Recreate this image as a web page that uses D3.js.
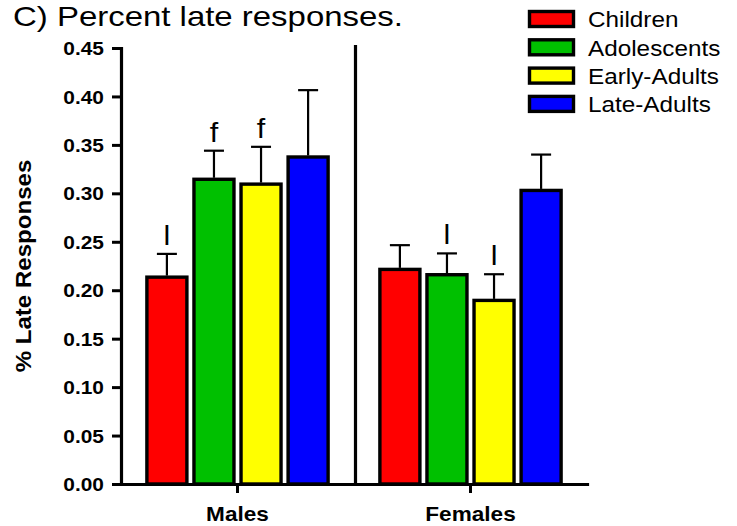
<!DOCTYPE html>
<html><head><meta charset="utf-8">
<script src="https://cdn.jsdelivr.net/npm/d3@7"></script>
<style>body{margin:0;background:#fff} svg{display:block}</style>
</head><body><svg id="c" width="737" height="526"></svg>
<script>
// ---- data ----
const groups = ["Males", "Females"];
const series = ["Children", "Adolescents", "Early-Adults", "Late-Adults"];
const colors = ["#ff0000", "#00c000", "#ffff00", "#0000ff"];
const malesMean = [0.2135, 0.3145, 0.3095, 0.3375];
const malesErr = [0.024, 0.0295, 0.0385, 0.069];
const femalesMean = [0.2215, 0.216, 0.1895, 0.303];
const femalesErr = [0.025, 0.022, 0.027, 0.037];
const malesMarks = ["l", "f", "f", ""];
const femalesMarks = ["", "l", "l", ""];
const yTicks = [0.00, 0.05, 0.10, 0.15, 0.20, 0.25, 0.30, 0.35, 0.40, 0.45];
const yTickLabels = ["0.00", "0.05", "0.10", "0.15", "0.20", "0.25", "0.30", "0.35", "0.40", "0.45"];
const titleText = "C) Percent late responses.";
const yTitleText = "% Late Responses";

const means = [malesMean, femalesMean];
const errs = [malesErr, femalesErr];
const marks = [malesMarks, femalesMarks];

// ---- layout ----
const SX = 1.13; // horizontal glyph stretch seen in the reference
const svg = d3.select("#c");
const mLeft = 121, mRight = 587, mTop = 48, mBottom = 484;

const y = d3.scaleLinear().domain([0, 0.45]).range([mBottom, mTop]);
const x0 = d3.scaleBand().domain(groups).range([mLeft, mRight]).padding(0);
const x1 = d3.scaleBand().domain(series).range([0, x0.bandwidth()])
  .paddingInner(0.15).paddingOuter(0.55);

const data = [];
groups.forEach((g, gi) => series.forEach((s, si) => data.push({
  g, s, si, v: means[gi][si], e: errs[gi][si], m: marks[gi][si]
})));

// bars
const bars = svg.append("g");
bars.selectAll("rect").data(data).join("rect")
  .attr("x", d => x0(d.g) + x1(d.s))
  .attr("width", x1.bandwidth())
  .attr("y", d => y(d.v))
  .attr("height", d => y(0) - y(d.v))
  .attr("fill", d => colors[d.si])
  .attr("stroke", "#000").attr("stroke-width", 3.4);

// error bars
const eb = svg.append("g").attr("stroke", "#000").attr("stroke-width", 2.2);
eb.selectAll("line.v").data(data).join("line").attr("class", "v")
  .attr("x1", d => x0(d.g) + x1(d.s) + x1.bandwidth() / 2)
  .attr("x2", d => x0(d.g) + x1(d.s) + x1.bandwidth() / 2)
  .attr("y1", d => y(d.v) - 1.5)
  .attr("y2", d => y(d.v + d.e));
eb.selectAll("line.h").data(data).join("line").attr("class", "h")
  .attr("x1", d => x0(d.g) + x1(d.s) + x1.bandwidth() / 4)
  .attr("x2", d => x0(d.g) + x1(d.s) + x1.bandwidth() * 3 / 4)
  .attr("y1", d => y(d.v + d.e))
  .attr("y2", d => y(d.v + d.e));

// significance letters
svg.append("g").selectAll("text").data(data.filter(d => d.m)).join("text")
  .attr("transform", d => `translate(${x0(d.g) + x1(d.s) + x1.bandwidth() / 2},${y(d.v + d.e) - 9}) scale(${SX},1)`)
  .attr("text-anchor", "middle")
  .attr("font-family", "Liberation Sans, Arial, sans-serif")
  .attr("font-size", 27)
  .text(d => d.m);

// y axis
const yAxis = svg.append("g").attr("transform", `translate(${mLeft},0)`)
  .call(d3.axisLeft(y).tickValues(yTicks).tickFormat((d, i) => yTickLabels[i])
    .tickSize(9).tickSizeOuter(0));
yAxis.select(".domain").attr("stroke-width", 3.2).attr("stroke-linecap", "square");
yAxis.selectAll(".tick line").attr("stroke-width", 3);
yAxis.selectAll(".tick text")
  .attr("x", null).attr("dy", null)
  .attr("transform", `translate(-17,6.6) scale(${SX},1)`)
  .attr("font-family", "Liberation Sans, Arial, sans-serif")
  .attr("font-weight", "bold").attr("font-size", 18.5).attr("fill", "#000");

// x axis
const xAxis = svg.append("g").attr("transform", `translate(0,${mBottom})`)
  .call(d3.axisBottom(x0).tickSize(9).tickSizeOuter(0));
xAxis.select(".domain").attr("stroke-width", 3.2).attr("stroke-linecap", "square");
xAxis.selectAll(".tick line").attr("stroke-width", 3);
xAxis.selectAll(".tick text")
  .attr("y", null).attr("dy", null)
  .attr("transform", `translate(0,37) scale(${SX},1)`)
  .attr("font-family", "Liberation Sans, Arial, sans-serif")
  .attr("font-weight", "bold").attr("font-size", 20).attr("fill", "#000");

// separator between groups
svg.append("line")
  .attr("x1", x0("Females") + 1.5).attr("x2", x0("Females") + 1.5)
  .attr("y1", y(0.45) - 3).attr("y2", y(0))
  .attr("stroke", "#000").attr("stroke-width", 3.2);

// y title
svg.append("text")
  .attr("transform", `translate(31,${(mTop + mBottom) / 2}) rotate(-90) scale(${SX},1)`)
  .attr("text-anchor", "middle")
  .attr("font-family", "Liberation Sans, Arial, sans-serif")
  .attr("font-weight", "bold").attr("font-size", 21.3)
  .text(yTitleText);

// title
svg.append("text")
  .attr("transform", `translate(13,25.5) scale(1.177,1)`)
  .attr("font-family", "Liberation Sans, Arial, sans-serif")
  .attr("font-size", 28)
  .text(titleText);

// legend
const lg = svg.append("g").attr("transform", "translate(529.5,11.5)");
const row = lg.selectAll("g").data(series).join("g")
  .attr("transform", (d, i) => `translate(0,${i * 28.3})`);
row.append("rect").attr("width", 44).attr("height", 15)
  .attr("fill", (d, i) => colors[i]).attr("stroke", "#000").attr("stroke-width", 3.4);
row.append("text")
  .attr("transform", `translate(58.5,15.8) scale(${SX},1)`)
  .attr("font-family", "Liberation Sans, Arial, sans-serif")
  .attr("font-size", 21.5)
  .text(d => d);
</script>
</body></html>
